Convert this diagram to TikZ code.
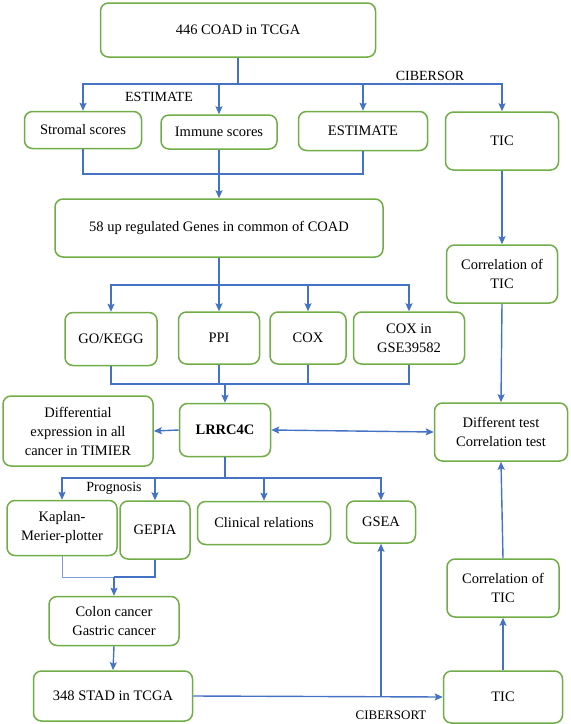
\documentclass[tikz,border=0pt]{standalone}
\usepackage{fontspec}
\setmainfont{Liberation Serif}
\usepackage{xcolor}
\usetikzlibrary{positioning,%
  arrows.meta,%
  calc%
}
\definecolor{boxgreen}{RGB}{112,173,71}
\definecolor{linkblue}{RGB}{68,114,196}

\begin{document}
\begin{tikzpicture}[x=1pt,y=-1pt,
    box/.style={draw=boxgreen, line width=1.5pt, rounded corners=8pt, align=center, inner sep=2pt,
      font=\fontsize{14.5}{19}\selectfont},
    lbl/.style={inner sep=0pt, font=\fontsize{14}{17}\selectfont},
    link/.style={draw=linkblue, line width=1.4pt},
    arr/.style={link, -{Stealth[length=8pt,width=7pt,inset=1.5pt]}},
    both/.style={link, {Stealth[length=8pt,width=7pt,inset=1.5pt]}-{Stealth[length=8pt,width=7pt,inset=1.5pt]}}]
            \useasboundingbox (0,0) rectangle (571,724);

            % top part
            \node [box, minimum width=275pt, minimum height=54pt] (coad) at (238,30) {446 COAD in TCGA};
            \node [box, minimum width=117pt, minimum height=37pt] (stromal) at (83,130) {Stromal scores};
            \node [box, minimum width=116pt, minimum height=34pt] (immune) at (219,132) {Immune scores};
            \node [box, minimum width=129pt, minimum height=39pt] (estimate) at (363,131) {ESTIMATE};
            \node [box, minimum width=113pt, minimum height=58pt] (tictop) at (502,141) {TIC};
            \node [box, minimum width=328pt, minimum height=58pt] (genes) at (219,228) {58 up regulated Genes in common of COAD};
            \node [box, minimum width=111pt, minimum height=58pt] (corrtop) at (502,274) {Correlation of\\TIC};

            \node [lbl] (estlbl) at (159,97) {ESTIMATE};
            \node [lbl] (ciblbl) at (430,76) {CIBERSOR};

            \coordinate (split1) at (238,84);
            \draw [link] (coad.south) -- (split1);
            \draw [arr] (split1) -| (stromal.north);
            \draw [arr] (split1) -| (tictop.north);
            \draw [arr] (immune.north |- split1) -- (immune.north);
            \draw [arr] (estimate.north |- split1) -- (estimate.north);

            \coordinate (join1) at (219,174);
            \draw [link] (stromal.south) |- (join1);
            \draw [link] (estimate.south) |- (join1);
            \draw [arr] (immune.south) -- (genes.north);

            \draw [arr] (tictop.south) -- (corrtop.north);

            % middle part
            \node [box, minimum width=92pt, minimum height=53pt] (gokegg) at (111,339) {GO/KEGG};
            \node [box, minimum width=81pt, minimum height=52pt] (ppi) at (219,338) {PPI};
            \node [box, minimum width=76pt, minimum height=52pt] (cox) at (308,338) {COX};
            \node [box, minimum width=111pt, minimum height=52pt] (coxgse) at (409,338) {COX in\\GSE39582};
            \node [box, minimum width=91pt, minimum height=53pt] (lrrc) at (225,430) {\textbf{LRRC4C}};
            \node [box, minimum width=150pt, minimum height=70pt] (diff) at (78,431) {Differential\\expression in all\\cancer in TIMIER};
            \node [box, minimum width=133pt, minimum height=58pt] (difftest) at (501,432) {Different test\\Correlation test};

            \coordinate (split2) at (219,285);
            \draw [arr] (genes.south) -- (ppi.north);
            \draw [arr] (split2) -| (gokegg.north);
            \draw [arr] (split2) -| (coxgse.north);
            \draw [arr] (cox.north |- split2) -- (cox.north);

            \coordinate (join2) at (225,384);
            \draw [link] (gokegg.south) |- (coxgse.south |- join2) -- (coxgse.south);
            \draw [link] (ppi.south) -- (ppi.south |- join2);
            \draw [link] (cox.south) -- (cox.south |- join2);
            \draw [arr] (join2) -- (lrrc.north);

            \draw [arr] (lrrc.west) -- (diff.east);
            \draw [both] (lrrc.east) -- (difftest.west);
            \draw [arr] (corrtop.south) -- (difftest.north);

            % bottom part
            \node [box, minimum width=110pt, minimum height=55pt] (kaplan) at (62,528) {Kaplan-\\Merier-plotter};
            \node [box, minimum width=70pt, minimum height=58pt] (gepia) at (155,530) {GEPIA};
            \node [box, minimum width=133pt, minimum height=43pt] (clinical) at (264,523) {Clinical relations};
            \node [box, minimum width=69pt, minimum height=42pt] (gsea) at (381,522) {GSEA};
            \node [box, minimum width=130pt, minimum height=49pt] (colon) at (114,621) {Colon cancer\\Gastric cancer};
            \node [box, minimum width=159pt, minimum height=50pt] (stad) at (113,696) {348 STAD in TCGA};
            \node [box, minimum width=119pt, minimum height=52pt] (ticbot) at (503,697) {TIC};
            \node [box, minimum width=112pt, minimum height=58pt] (corrbot) at (503,588) {Correlation of\\TIC};

            \node [lbl] (proglbl) at (114,488) {Prognosis};
            \node [lbl, font=\fontsize{13}{16}\selectfont] (cibtlbl) at (391,715) {CIBERSORT};

            \coordinate (split3) at (225,478);
            \draw [link] (lrrc.south) -- (split3);
            \draw [arr] (split3) -| (kaplan.north);
            \draw [arr] (split3) -| (gsea.north);
            \draw [arr] (gepia.north |- split3) -- (gepia.north);
            \draw [arr] (clinical.north |- split3) -- (clinical.north);

            \coordinate (join3) at (114,577);
            \draw [link, line width=0.8pt, draw=linkblue!70] (kaplan.south) |- (join3);
            \draw [link] (gepia.south) |- (join3);
            \draw [arr] (join3) -- (colon.north);
            \draw [arr] (colon.south) -- (stad.north);

            \draw [arr] (stad.east) -- (ticbot.west);
            \draw [arr] (gsea.south |- stad.east) -- (gsea.south);
            \draw [arr] (ticbot.north) -- (corrbot.south);
            \draw [arr] (corrbot.north) -- (difftest.south);
        \end{tikzpicture}
\end{document}
